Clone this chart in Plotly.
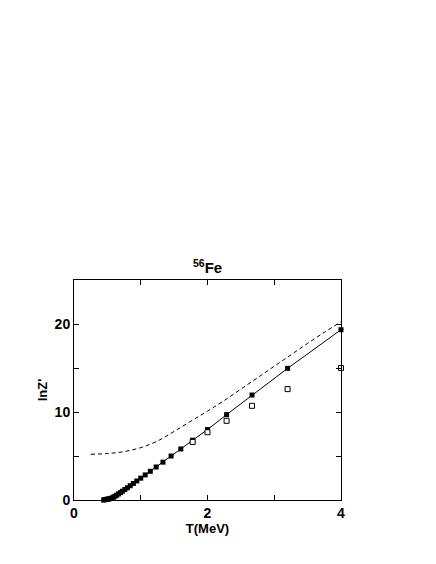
import plotly.graph_objects as go

# filled squares + solid line (grid in 1/T)
t_full = [0.444, 0.457, 0.471, 0.485, 0.500, 0.516, 0.533, 0.552, 0.571, 0.593,
          0.615, 0.640, 0.667, 0.696, 0.727, 0.762, 0.800, 0.842, 0.889, 0.941,
          1.000, 1.067, 1.143, 1.231, 1.333, 1.455, 1.600, 1.778, 2.000, 2.286,
          2.667, 3.200, 4.000]
lnz_full = [0.00, 0.03, 0.06, 0.07, 0.09, 0.11, 0.14, 0.18, 0.24, 0.33,
            0.43, 0.55, 0.69, 0.84, 1.00, 1.19, 1.39, 1.62, 1.88, 2.16,
            2.48, 2.85, 3.26, 3.75, 4.30, 5.00, 5.80, 6.80, 8.00, 9.70,
            11.93, 14.96, 19.35]

# open squares
t_open = [1.778, 2.000, 2.286, 2.667, 3.200, 4.000]
lnz_open = [6.60, 7.70, 9.00, 10.70, 12.60, 15.00]

# dashed curve
t_dash = [0.25, 0.50, 0.75, 1.00, 1.25, 1.50, 1.75, 2.00, 2.25, 2.50,
          2.75, 3.00, 3.25, 3.50, 3.75, 4.00]
lnz_dash = [5.20, 5.28, 5.50, 5.95, 6.70, 7.80, 8.95, 10.10, 11.30, 12.60,
            13.90, 15.20, 16.50, 17.80, 19.05, 20.25]

fig = go.Figure()

fig.add_trace(go.Scatter(
    x=t_dash, y=lnz_dash, mode="lines",
    line=dict(color="black", width=1, dash="4px,3px", shape="spline"),
    showlegend=False,
))
fig.add_trace(go.Scatter(
    x=t_full, y=lnz_full, mode="lines+markers",
    line=dict(color="black", width=1),
    marker=dict(symbol="square", size=5, color="black"),
    showlegend=False, cliponaxis=False,
))
fig.add_trace(go.Scatter(
    x=t_open, y=lnz_open, mode="markers",
    marker=dict(symbol="square", size=5, color="white",
                line=dict(color="black", width=1)),
    showlegend=False, cliponaxis=False,
))

font = dict(family="Liberation Sans, Arial, sans-serif", size=14, color="black")
minor_tick = dict(ticks="inside", ticklen=5, tickcolor="black", showgrid=False)

fig.update_xaxes(
    range=[0, 4], tick0=0, dtick=2, tickformat="d",
    ticks="inside", ticklen=5, tickcolor="black", showline=True, linecolor="black",
    linewidth=1, mirror="ticks", showgrid=False, zeroline=False, tickfont=font,
    minor=dict(dtick=1, **minor_tick),
    title=dict(text="<b>T(MeV)</b>", font=dict(family=font["family"], size=13, color="black"),
               standoff=2),
)
fig.update_yaxes(
    range=[0, 25], tick0=0, dtick=10, tickformat="d",
    ticks="inside", ticklen=5, tickcolor="black", showline=True, linecolor="black",
    linewidth=1, mirror="ticks", showgrid=False, zeroline=False, tickfont=font,
    minor=dict(dtick=5, **minor_tick),
    title=dict(text="<b>lnZ'</b>", font=dict(family=font["family"], size=13, color="black"),
               standoff=4),
)

fig.add_annotation(
    x=0.5, y=1, xref="paper", yref="paper", yanchor="bottom", yshift=2,
    text="<b><sup>56</sup>Fe</b>", showarrow=False,
    font=dict(family=font["family"], size=15, color="black"),
)

# page body has an 8px margin, margins below are compensated for it
fig.update_layout(
    width=436, height=564,
    margin=dict(l=66, r=103, t=272, b=72),
    plot_bgcolor="white", paper_bgcolor="white",
    font=dict(family=font["family"], color="black"),
)
fig.update_xaxes(tickprefix="<b>", ticksuffix="</b>")
fig.update_yaxes(tickprefix="<b>", ticksuffix="</b>")

fig.write_html("out.html")
